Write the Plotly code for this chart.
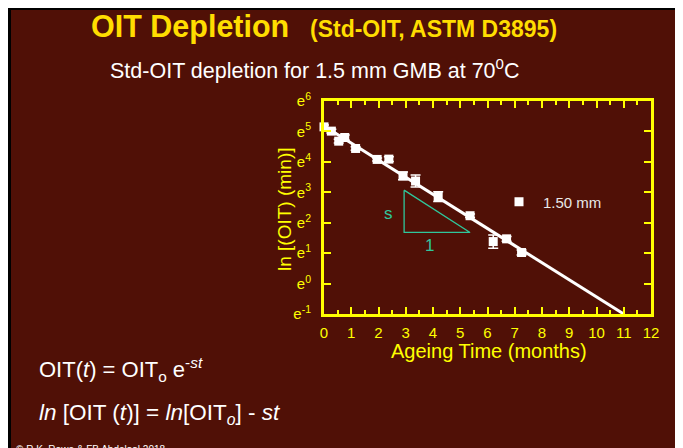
import plotly.graph_objects as go

# ---------------- data ----------------
months = [0.0, 0.27, 0.54, 0.76, 1.16, 1.95, 2.38, 2.90, 3.36, 4.19, 5.36, 6.21, 6.70, 7.25]
ln_oit = [5.15, 5.01, 4.68, 4.80, 4.44, 4.08, 4.09, 3.54, 3.37, 2.86, 2.23, 1.38, 1.47, 1.02]
ln_err = [0.06, 0.06, 0.06, 0.08, 0.06, 0.05, 0.08, 0.13, 0.20, 0.16, 0.06, 0.22, 0.08, 0.08]

fit_t = [0.0, 11.0]
fit_ln = [5.18, -1.0]

slope_tri_t = [2.94, 2.94, 5.36, 2.94]
slope_tri_ln = [3.07, 1.68, 1.68, 3.07]

x_ticks = list(range(0, 13))
y_ticks = [-1, 0, 1, 2, 3, 4, 5, 6]
y_tick_text = ["e<sup>%d</sup>" % v for v in y_ticks]

series_name = "1.50 mm"

# ---------------- layout helpers ----------------
W, H = 683, 448
OFF = 8  # page body margin
Lp, Rp, Tp, Bp = 324, 651, 101, 314  # plot area in page pixels


def px(x):
    return (x - Lp) / (Rp - Lp)


def py(y):
    return (Bp - y) / (Bp - Tp)


BG = "#501006"
YEL = "#FFFF00"
GOLD = "#FFDD00"
TEAL = "#2FC79B"
FONT = "Liberation Sans, Arial, sans-serif"

fig = go.Figure()

fig.add_trace(go.Scatter(
    x=fit_t, y=fit_ln, mode="lines",
    line=dict(color="white", width=3), showlegend=False, hoverinfo="skip",
))

fig.add_trace(go.Scatter(
    x=slope_tri_t, y=slope_tri_ln, mode="lines",
    line=dict(color=TEAL, width=1.3), showlegend=False, hoverinfo="skip",
))

fig.add_trace(go.Scatter(
    x=months, y=ln_oit, mode="markers",
    marker=dict(symbol="square", size=9, color="white"),
    error_y=dict(type="data", array=ln_err, color="white", thickness=1.5, width=5),
    showlegend=False, cliponaxis=False,
))

fig.add_trace(go.Scatter(
    x=[None], y=[None], mode="markers", name=series_name,
    marker=dict(symbol="square", size=9, color="white"),
    showlegend=True,
))

axis_common = dict(
    showline=True, linewidth=3, linecolor=YEL, mirror="allticks",
    ticks="inside", ticklen=7, tickwidth=2, tickcolor=YEL,
    showgrid=False, zeroline=False,
    tickfont=dict(family=FONT, size=15, color=YEL),
)

fig.update_xaxes(
    range=[0, 12], tickvals=x_ticks,
    minor=dict(ticks="inside", ticklen=4, tickwidth=2, tickcolor=YEL, dtick=0.5, tick0=0),
    ticklabelstandoff=3,
    **axis_common,
)
fig.update_yaxes(
    range=[-1, 6], tickvals=y_ticks, ticktext=y_tick_text,
    ticklabelstandoff=7,
    **axis_common,
)

shapes = [
    dict(type="rect", xref="paper", yref="paper", x0=px(OFF), x1=px(W + OFF), y0=py(OFF + 2), y1=py(OFF),
         fillcolor="black", line=dict(width=0), layer="below"),
    dict(type="rect", xref="paper", yref="paper", x0=px(OFF), x1=px(OFF + 3), y0=py(H + OFF), y1=py(OFF),
         fillcolor="black", line=dict(width=0), layer="below"),
    dict(type="rect", xref="paper", yref="paper", x0=px(676), x1=px(W + OFF), y0=py(H + OFF), y1=py(OFF),
         fillcolor="black", line=dict(width=0), layer="below"),
]

annotations = [
    dict(text="<b>OIT Depletion</b>", x=px(89), y=py(26), xref="paper", yref="paper",
         xanchor="left", yanchor="middle", showarrow=False,
         font=dict(family=FONT, size=30.5, color=GOLD)),
    dict(text="<b>(Std-OIT, ASTM D3895)</b>", x=px(308), y=py(29), xref="paper", yref="paper",
         xanchor="left", yanchor="middle", showarrow=False,
         font=dict(family=FONT, size=23, color=GOLD)),
    dict(text="Std-OIT depletion for 1.5 mm GMB at 70<sup>0</sup>C", x=px(108), y=py(69),
         xref="paper", yref="paper", xanchor="left", yanchor="middle", showarrow=False,
         font=dict(family=FONT, size=21.5, color="white")),
    dict(text="OIT(<i>t</i>) = OIT<sub>o</sub> e<sup>-<i>st</i></sup>", x=px(37), y=py(369),
         xref="paper", yref="paper", xanchor="left", yanchor="middle", showarrow=False,
         font=dict(family=FONT, size=22, color="white")),
    dict(text="<i>ln</i> [OIT (<i>t</i>)] = <i>ln</i>[OIT<sub><i>o</i></sub>] - <i>st</i>", x=px(37), y=py(414),
         xref="paper", yref="paper", xanchor="left", yanchor="middle", showarrow=False,
         font=dict(family=FONT, size=22.5, color="white")),
    dict(text="© R.K. Rowe & FB Abdelaal 2018", x=px(14), y=py(442),
         xref="paper", yref="paper", xanchor="left", yanchor="top", showarrow=False,
         font=dict(family=FONT, size=10, color="white")),
    dict(text="Ageing Time (months)", x=px(489), y=py(351), xref="paper", yref="paper",
         xanchor="center", yanchor="middle", showarrow=False,
         font=dict(family=FONT, size=20, color=YEL)),
    dict(text="ln [(OIT) (min)]", x=px(284), y=py(209), xref="paper", yref="paper",
         xanchor="center", yanchor="middle", showarrow=False, textangle=-90,
         font=dict(family=FONT, size=19, color=YEL)),
    dict(text="s", x=2.38, y=2.31, xref="x", yref="y", showarrow=False,
         font=dict(family=FONT, size=17, color=TEAL)),
    dict(text="1", x=3.86, y=1.24, xref="x", yref="y", showarrow=False,
         font=dict(family=FONT, size=17, color=TEAL)),
]

fig.update_layout(
    width=W, height=H,
    margin=dict(l=Lp - OFF, r=W - (Rp - OFF), t=Tp - OFF, b=H - (Bp - OFF), pad=0),
    paper_bgcolor=BG, plot_bgcolor=BG,
    font=dict(family=FONT),
    shapes=shapes, annotations=annotations,
    legend=dict(x=px(495), y=py(202), xanchor="left", yanchor="middle",
                bgcolor="rgba(0,0,0,0)", font=dict(family=FONT, size=15, color="#E8E8E8"),
                itemwidth=38),
)

fig.write_html("out.html")
